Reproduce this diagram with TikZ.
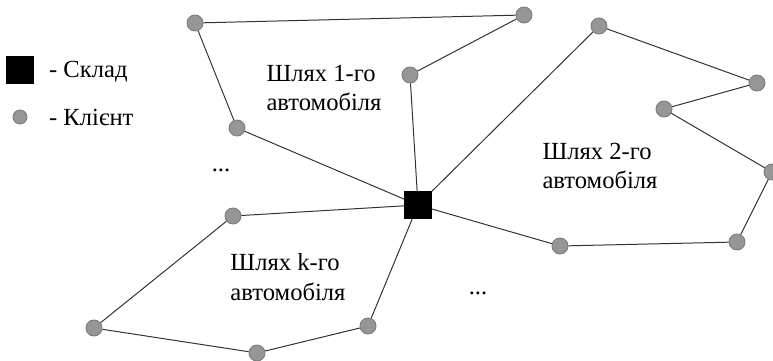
\documentclass[tikz,border=0pt]{standalone}
\usepackage{fontspec}
\setmainfont{Liberation Serif}
\newfontfamily\diagfont{Liberation Serif}
\usepackage{xcolor}
\usepackage{tikz}

\definecolor{clientfill}{RGB}{150,150,150}
\definecolor{clientedge}{RGB}{125,125,125}
\definecolor{routeline}{RGB}{50,50,50}

\begin{document}
\begin{tikzpicture}[x=0.03cm, y=-0.03cm,
  client/.style={circle, fill=clientfill, draw=clientedge, line width=0.8pt, minimum size=0.48cm, inner sep=0pt},
  depot/.style={rectangle, fill=black, minimum size=0.82cm, inner sep=0pt},
  route/.style={draw=routeline, line width=0.85pt},
  label/.style={font=\diagfont\fontsize{21}{25}\selectfont, align=left}]
  \useasboundingbox (0,0) rectangle (773,361);

  % legend
  \node[depot] (ls) at (20,70) {};
  \node[client, minimum size=0.42cm] (lc) at (20,117) {};
  \node[label, anchor=west] (lst) at (45,72) {- Склад};
  \node[label, anchor=west] (lct) at (45,117) {- Клієнт};

  \node[depot] (d) at (418,205) {};

  % route 1
  \node[client] (a1) at (237,128) {};
  \node[client] (a2) at (195,23) {};
  \node[client] (a3) at (524,15) {};
  \node[client] (a4) at (410,75) {};

  % route 2
  \node[client] (b1) at (599,26) {};
  \node[client] (b2) at (757,83) {};
  \node[client] (b3) at (664,109) {};
  \node[client] (b4) at (772,172) {};
  \node[client] (b5) at (737,242) {};
  \node[client] (b6) at (560,246) {};

  % route k
  \node[client] (c1) at (233,216) {};
  \node[client] (c2) at (94,328) {};
  \node[client] (c3) at (257,353) {};
  \node[client] (c4) at (368,326) {};

  \draw[route] (d) -- (a1) -- (a2) -- (a3) -- (a4) -- (d);
  \draw[route] (d) -- (b1) -- (b2) -- (b3) -- (b4) -- (b5) -- (b6) -- (d);
  \draw[route] (d) -- (c1) -- (c2) -- (c3) -- (c4) -- (d);

  \node[label] (t1) at (324,88) {Шлях 1-го\\автомобіля};
  \node[label] (t2) at (600,166) {Шлях 2-го\\автомобіля};
  \node[label] (tk) at (288,277) {Шлях k-го\\автомобіля};
  \node[label] (dots1) at (221,170) {...};
  \node[label] (dots2) at (478,293) {...};
\end{tikzpicture}
\end{document}
